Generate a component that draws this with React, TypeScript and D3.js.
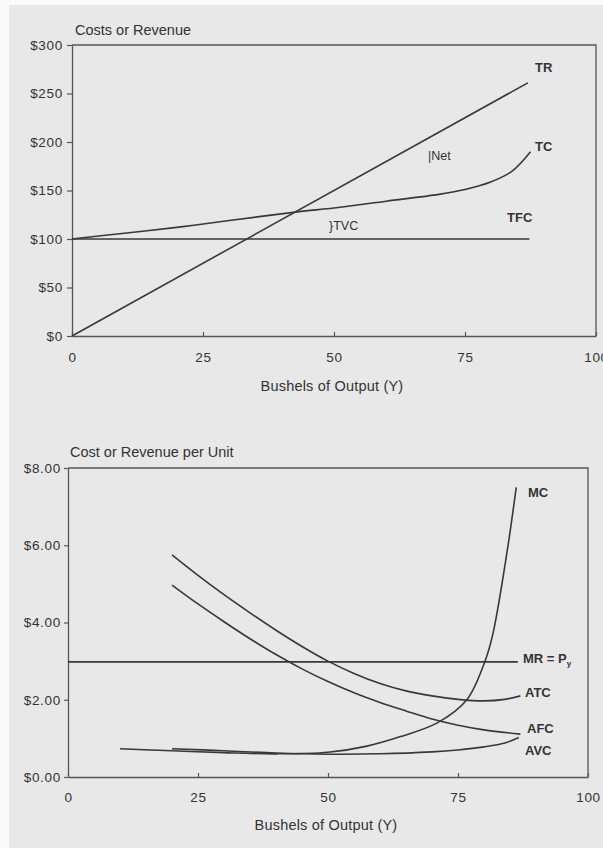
import React, { useEffect, useRef } from "react";
import * as d3 from "d3";

// ---------- data ----------
const outputTicks = [0, 25, 50, 75, 100];
const totalTicks = [0, 50, 100, 150, 200, 250, 300];
const unitTicks = [0, 2, 4, 6, 8];

// top chart: total values
const trY = [0, 87];
const trVal = [0, 261];
const tfcY = [0, 87.3];
const tfcVal = [100, 100];
const tcY = [0, 10, 20, 30, 43, 50, 60, 70, 75, 80, 84, 87.5];
const tcVal = [100, 106, 112, 119, 128, 132, 139, 146, 151, 159, 170, 190];

// bottom chart: per-unit values
const mrY = [0, 86.5];
const mrVal = [2.98, 2.98];
const mcY = [10, 20, 30, 40, 50, 57.5, 63.8, 71, 76.7, 80.2, 81.7, 84.4, 86.2];
const mcVal = [0.73, 0.68, 0.63, 0.6, 0.64, 0.8, 1.04, 1.4, 2.0, 3.0, 3.7, 5.8, 7.5];
const atcY = [20, 25, 30, 35, 40, 45, 50, 55, 60, 65, 70, 75, 80, 84, 87];
const atcVal = [5.75, 5.22, 4.72, 4.25, 3.8, 3.38, 3.0, 2.68, 2.42, 2.23, 2.1, 2.01, 1.97, 2.01, 2.1];
const afcY = [20, 25, 30, 35, 40, 45, 50, 55, 60, 65, 70, 75, 80, 87];
const afcVal = [4.97, 4.48, 4.02, 3.58, 3.17, 2.8, 2.47, 2.18, 1.93, 1.71, 1.5, 1.34, 1.22, 1.11];
const avcY = [20, 30, 40, 50, 60, 70, 75, 80, 84, 86.7];
const avcVal = [0.73, 0.68, 0.62, 0.59, 0.6, 0.65, 0.7, 0.78, 0.88, 1.02];

const FONT = "'Liberation Sans', Arial, Helvetica, sans-serif";
const INK = "#383838";

// scales
const xTop = d3.scaleLinear().domain([0, 100]).range([72, 596]);
const yTop = d3.scaleLinear().domain([0, 300]).range([336, 45]);
const xBot = d3.scaleLinear().domain([0, 100]).range([68, 588]);
const yBot = d3.scaleLinear().domain([0, 8]).range([777, 468]);

function pathOf(xs: number[], ys: number[], xs_: any, ys_: any) {
  const pts = xs.map((v, i) => [v, ys[i]] as [number, number]);
  return d3
    .line<[number, number]>()
    .x((d) => xs_(d[0]))
    .y((d) => ys_(d[1]))
    .curve(d3.curveCatmullRom.alpha(0.5))(pts) as string;
}

export default function App() {
  const gTopX = useRef<SVGGElement>(null);
  const gTopY = useRef<SVGGElement>(null);
  const gBotX = useRef<SVGGElement>(null);
  const gBotY = useRef<SVGGElement>(null);

  useEffect(() => {
    const style = (g: any) => {
      g.select(".domain").attr("stroke", "#555").attr("stroke-width", 1.3);
      g.selectAll(".tick line").attr("stroke", "#555").attr("stroke-width", 1.2);
      g.selectAll("text")
        .attr("fill", "#333")
        .style("font-family", FONT)
        .style("font-size", "13.5px")
        .style("letter-spacing", "0.7px");
    };
    const gx1 = d3.select(gTopX.current!);
    gx1.selectAll("*").remove();
    gx1.call(
      d3.axisBottom(xTop).tickValues(outputTicks).tickSizeInner(-4).tickSizeOuter(0).tickPadding(16).tickFormat(d3.format("d"))
    );
    style(gx1);
    const gy1 = d3.select(gTopY.current!);
    gy1.selectAll("*").remove();
    gy1.call(
      d3.axisLeft(yTop).tickValues(totalTicks).tickSize(5).tickSizeOuter(0).tickPadding(4).tickFormat((d: any) => `$${d}`)
    );
    style(gy1);
    const gx2 = d3.select(gBotX.current!);
    gx2.selectAll("*").remove();
    gx2.call(
      d3.axisBottom(xBot).tickValues(outputTicks).tickSizeInner(-4).tickSizeOuter(0).tickPadding(15).tickFormat(d3.format("d"))
    );
    style(gx2);
    const gy2 = d3.select(gBotY.current!);
    gy2.selectAll("*").remove();
    gy2.call(
      d3.axisLeft(yBot).tickValues(unitTicks).tickSize(4).tickSizeOuter(0).tickPadding(3).tickFormat((d: any) => `$${d3.format(".2f")(d)}`)
    );
    style(gy2);
  }, []);

  const lineProps = { fill: "none", stroke: INK, strokeWidth: 1.6 };
  const lbl = { fontFamily: FONT, fontSize: 13, fontWeight: 700, fill: "#333" } as any;
  const title = { fontFamily: FONT, fontSize: 14.5, fill: "#333" } as any;
  const axTitle = { fontFamily: FONT, fontSize: 14.5, fill: "#333", letterSpacing: 0.2 } as any;

  return (
    <svg width={603} height={848} style={{ position: "absolute", left: 0, top: 0 }}>
      <rect x={0} y={0} width={603} height={848} fill="#fafafa" />
      <rect x={9} y={5} width={594} height={843} fill="#e8e8e8" />

      {/* ---------- top chart ---------- */}
      <text x={75} y={35} style={title}>Costs or Revenue</text>
      <path d={`M${xTop(0)},${yTop(300)}H${xTop(100)}V${yTop(0)}`} fill="none" stroke="#555" strokeWidth={1.3} />
      <g ref={gTopX} transform={`translate(0,${yTop(0)})`} />
      <g ref={gTopY} transform={`translate(${xTop(0)},0)`} />
      <path d={pathOf(tfcY, tfcVal, xTop, yTop)} {...lineProps} />
      <path d={pathOf(trY, trVal, xTop, yTop)} {...lineProps} />
      <path d={pathOf(tcY, tcVal, xTop, yTop)} {...lineProps} />
      <text x={535} y={72} style={lbl}>TR</text>
      <text x={535} y={151} style={lbl}>TC</text>
      <text x={507} y={222} style={lbl}>TFC</text>
      <text x={428} y={160} style={{ ...lbl, fontWeight: 400, fontSize: 12.5 }}>|Net</text>
      <text x={329} y={230} style={{ ...lbl, fontWeight: 400, fontSize: 12.5 }}>{"}TVC"}</text>
      <text x={xTop(50) - 2} y={391} textAnchor="middle" style={axTitle}>
        Bushels of Output (Y)
      </text>

      {/* ---------- bottom chart ---------- */}
      <text x={70} y={457} style={title}>Cost or Revenue per Unit</text>
      <path d={`M${xBot(0)},${yBot(8)}H${xBot(100)}V${yBot(0)}`} fill="none" stroke="#555" strokeWidth={1.3} />
      <g ref={gBotX} transform={`translate(0,${yBot(0)})`} />
      <g ref={gBotY} transform={`translate(${xBot(0)},0)`} />
      <path d={pathOf(mrY, mrVal, xBot, yBot)} {...lineProps} />
      <path d={pathOf(mcY, mcVal, xBot, yBot)} {...lineProps} />
      <path d={pathOf(atcY, atcVal, xBot, yBot)} {...lineProps} />
      <path d={pathOf(afcY, afcVal, xBot, yBot)} {...lineProps} />
      <path d={pathOf(avcY, avcVal, xBot, yBot)} {...lineProps} />
      <text x={528} y={497} style={lbl}>MC</text>
      <text x={523} y={663} style={lbl}>
        MR = P<tspan dy={3} fontSize={8}>y</tspan>
      </text>
      <text x={525} y={697} style={lbl}>ATC</text>
      <text x={527} y={733} style={lbl}>AFC</text>
      <text x={525} y={755} style={lbl}>AVC</text>
      <text x={xBot(50) - 2} y={830} textAnchor="middle" style={axTitle}>
        Bushels of Output (Y)
      </text>
    </svg>
  );
}
